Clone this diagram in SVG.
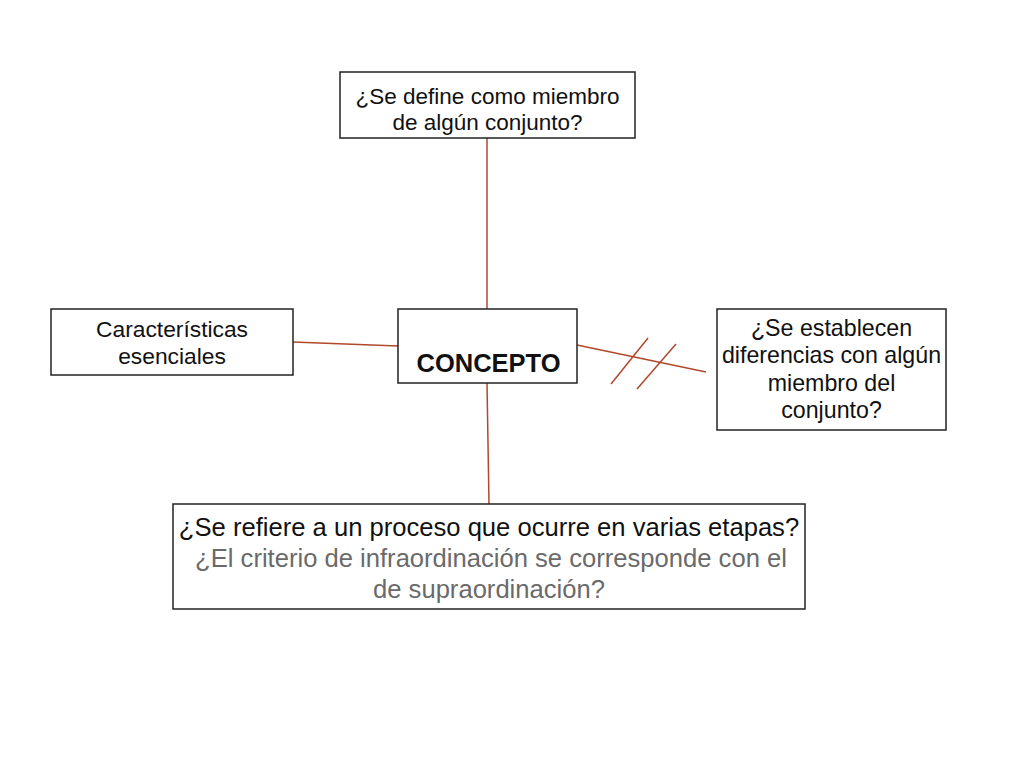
<svg xmlns="http://www.w3.org/2000/svg" width="1024" height="768" viewBox="0 0 1024 768">
<style>
.box{fill:#fff;stroke:#222;stroke-width:1.5}
text{font-family:'Liberation Sans',Arimo,Arial,Helvetica,sans-serif;font-size:22.5px;fill:#111;text-anchor:middle}
.big{font-size:25.6px}
.gray{fill:#6a6a6a}
.c{stroke:#b0482c;stroke-width:1.5;fill:none}
</style>
<rect width="1024" height="768" fill="#fff"/>
<g id="connectors">
<line class="c" x1="487" y1="138" x2="487" y2="309"/>
<line class="c" x1="487" y1="383" x2="489" y2="504"/>
<line class="c" x1="293" y1="342" x2="398" y2="346"/>
<line class="c" x1="577" y1="345" x2="706" y2="372"/>
<line class="c" x1="611" y1="384" x2="648" y2="338"/>
<line class="c" x1="637" y1="389" x2="676" y2="344"/>
</g>
<g id="top">
<rect class="box" x="340" y="72" width="295" height="66"/>
<text x="487.5" y="104" style="font-size:22.5px">¿Se define como miembro</text>
<text x="487.5" y="130" style="font-size:22.5px">de algún conjunto?</text>
</g>
<g id="left">
<rect class="box" x="51" y="309" width="242" height="66"/>
<text x="172" y="337" style="font-size:22.8px">Características</text>
<text x="172" y="364" style="font-size:22.8px">esenciales</text>
</g>
<g id="center">
<rect class="box" x="398" y="309" width="179" height="74"/>
<text x="488.5" y="372" style="font-size:25.5px;font-weight:bold">CONCEPTO</text>
</g>
<g id="right">
<rect class="box" x="717" y="309" width="229" height="121"/>
<text x="831.5" y="336" style="font-size:23.2px">¿Se establecen</text>
<text x="831.5" y="363" style="font-size:23.2px">diferencias con algún</text>
<text x="831.5" y="391" style="font-size:23.2px">miembro del</text>
<text x="831.5" y="418" style="font-size:23.2px">conjunto?</text>
</g>
<g id="bottom">
<rect class="box" x="173" y="504" width="632" height="105"/>
<text class="big" x="489" y="536">¿Se refiere a un proceso que ocurre en varias etapas?</text>
<text class="big gray" x="491" y="567">¿El criterio de infraordinación se corresponde con el</text>
<text class="big gray" x="489" y="598">de supraordinación?</text>
</g>
</svg>
